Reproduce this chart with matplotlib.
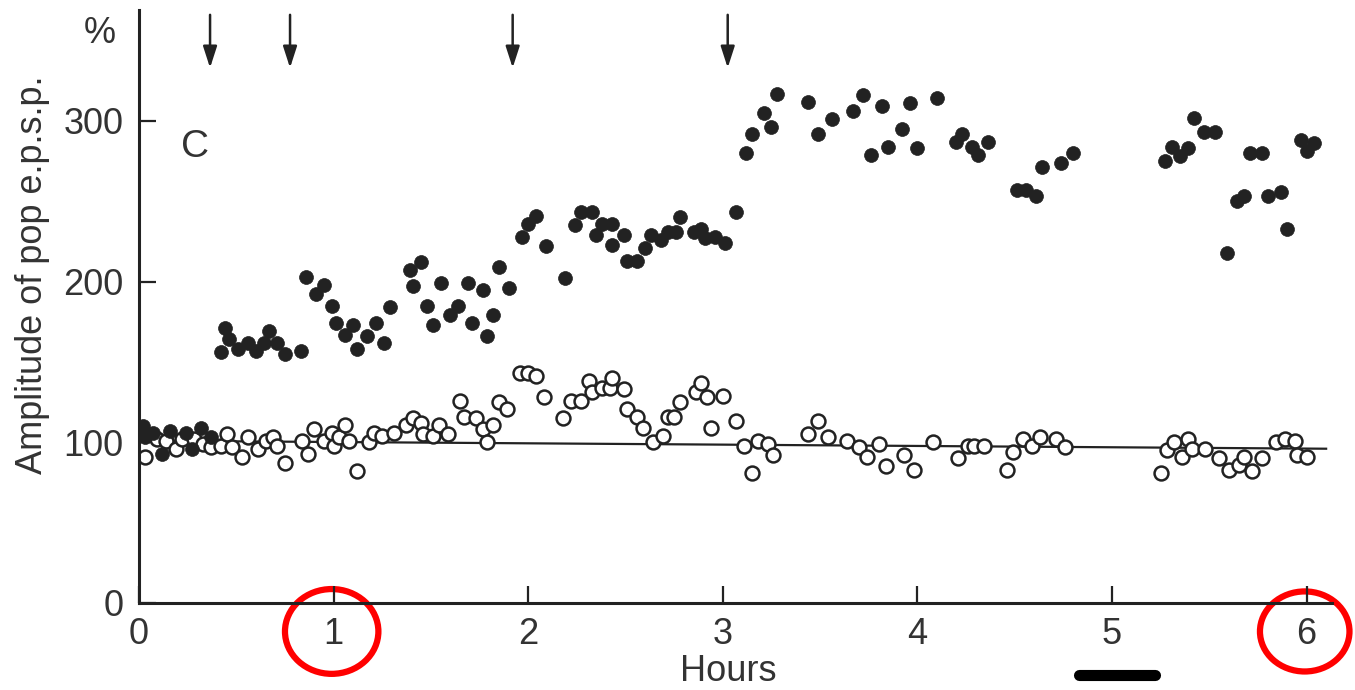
import matplotlib
matplotlib.use("Agg")
import matplotlib.pyplot as plt
from matplotlib.patches import Ellipse
import matplotlib.transforms as mtransforms

plt.rcParams['font.family'] = ['Liberation Sans', 'DejaVu Sans']

# tetanized pathway (filled circles), hours / % of baseline
tet_hours = [0.02, 0.03, 0.07, 0.12, 0.16, 0.24, 0.27, 0.32, 0.37,
             0.42, 0.44, 0.46, 0.51, 0.56, 0.60, 0.64, 0.67, 0.71, 0.75, 0.83,
             0.86, 0.95, 0.91, 0.99, 1.01, 1.10, 1.06, 1.12, 1.17, 1.22, 1.26, 1.29,
             1.39, 1.45, 1.41, 1.48, 1.55, 1.51, 1.60, 1.64, 1.69, 1.71, 1.77, 1.79, 1.82, 1.85, 1.90,
             1.97, 2.00, 2.04, 2.09, 2.19, 2.24, 2.27, 2.33, 2.35, 2.38, 2.43, 2.43, 2.49, 2.51,
             2.56, 2.60, 2.63, 2.68, 2.72, 2.76, 2.78, 2.85, 2.89, 2.91, 2.96, 3.01, 3.07,
             3.12, 3.15, 3.21, 3.25, 3.28, 3.44, 3.49, 3.56, 3.67, 3.72, 3.76, 3.82, 3.85,
             3.92, 3.96, 4.00, 4.10, 4.20, 4.23, 4.28, 4.31, 4.36,
             4.51, 4.56, 4.61, 4.64, 4.74, 4.80,
             5.27, 5.31, 5.35, 5.39, 5.42, 5.47, 5.53, 5.59, 5.64, 5.68, 5.71, 5.77, 5.80,
             5.87, 5.90, 5.97, 6.00, 6.04]
tet_pct = [110, 103, 106, 93, 107, 106, 96, 109, 103,
           156, 171, 164, 158, 162, 157, 162, 169, 162, 155, 157,
           203, 198, 192, 185, 174, 173, 167, 158, 166, 174, 162, 184,
           207, 212, 197, 185, 199, 173, 179, 185, 199, 174, 195, 166, 179, 209, 196,
           228, 236, 241, 222, 202, 235, 243, 243, 229, 236, 236, 223, 229, 213,
           213, 221, 229, 226, 231, 231, 240, 231, 233, 227, 228, 224, 243,
           280, 292, 305, 296, 317, 312, 292, 301, 306, 316, 279, 309, 284,
           295, 311, 283, 314, 287, 292, 284, 279, 287,
           257, 257, 253, 271, 274, 280,
           275, 284, 278, 283, 302, 293, 293, 218, 250, 253, 280, 280, 253,
           256, 233, 288, 281, 286]

# control pathway (open circles)
ctl_hours = [0.03, 0.09, 0.14, 0.19, 0.22, 0.28, 0.33, 0.37, 0.42, 0.45, 0.48, 0.53,
             0.56, 0.61, 0.65, 0.69, 0.71, 0.75, 0.84, 0.87, 0.90, 0.95, 0.99, 1.00,
             1.03, 1.06, 1.08, 1.12, 1.18, 1.21, 1.25, 1.31, 1.37, 1.41, 1.45, 1.46,
             1.51, 1.54, 1.59, 1.65, 1.67, 1.73, 1.77, 1.79, 1.82, 1.85, 1.89,
             1.96, 2.00, 2.04, 2.08, 2.18, 2.22, 2.27, 2.31, 2.33, 2.38, 2.42, 2.43,
             2.49, 2.51, 2.56, 2.59, 2.64, 2.69, 2.72, 2.75, 2.78, 2.86, 2.89, 2.92,
             2.94, 3.00, 3.07, 3.11, 3.15, 3.18, 3.23, 3.26, 3.44, 3.49, 3.54, 3.64,
             3.70, 3.74, 3.80, 3.84, 3.93, 3.98, 4.08, 4.21, 4.26, 4.29, 4.34, 4.46,
             4.49, 4.54, 4.59, 4.63, 4.71, 4.76,
             5.25, 5.28, 5.32, 5.36, 5.39, 5.41, 5.48, 5.55, 5.60, 5.65, 5.68, 5.72,
             5.77, 5.84, 5.89, 5.94, 5.95, 6.00]
ctl_pct = [91, 102, 101, 96, 102, 102, 99, 97, 98, 105, 97, 91,
           103, 96, 101, 103, 98, 87, 101, 93, 108, 101, 106, 98,
           103, 111, 101, 82, 100, 106, 104, 106, 111, 115, 112, 105,
           104, 111, 105, 126, 116, 115, 108, 100, 111, 125, 121,
           143, 143, 141, 128, 115, 126, 126, 138, 131, 134, 134, 140,
           133, 121, 116, 109, 100, 104, 116, 116, 125, 131, 137, 128,
           109, 129, 113, 98, 81, 101, 99, 92, 105, 113, 103, 101,
           97, 91, 99, 85, 92, 83, 100, 90, 98, 98, 98, 83,
           94, 102, 98, 103, 102, 97,
           81, 95, 100, 91, 102, 96, 96, 90, 83, 86, 91, 82,
           90, 100, 102, 101, 92, 91]

fit_hours = [0, 6.1]
fit_pct = [101, 96]

arrow_hours = [0.365, 0.776, 1.92, 3.025]
x_ticks = [0, 1, 2, 3, 4, 5, 6]
y_ticks = [0, 100, 200, 300]
circled_ticks = [1, 6]

ink = '#222222'

fig = plt.figure(figsize=(13.55, 6.9), dpi=100)
ax = fig.add_axes([0.1026, 0.1261, 0.8804, 0.8594])

ax.plot(fit_hours, fit_pct, color=ink, lw=1.6, zorder=1)
ax.plot(ctl_hours, ctl_pct, 'o', ms=10, mfc='white', mec=ink, mew=1.8, zorder=2)
ax.plot(tet_hours, tet_pct, 'o', ms=10, mfc=ink, mec=ink, mew=0.5, zorder=3)

for h in arrow_hours:
    ax.annotate('', xy=(h, 333), xytext=(h, 366),
                arrowprops=dict(arrowstyle='-|>,head_length=1.3,head_width=0.42',
                                color=ink, lw=1.8, shrinkA=0, shrinkB=0),
                annotation_clip=False)

ax.set_xlim(0, 6.13)
ax.set_ylim(0, 369)
ax.set_xticks(x_ticks)
ax.set_yticks(y_ticks)
ax.spines['top'].set_visible(False)
ax.spines['right'].set_visible(False)
for s in ['left', 'bottom']:
    ax.spines[s].set_linewidth(2.2)
    ax.spines[s].set_color(ink)
ax.tick_params(direction='in', length=12, width=1.6, colors=ink,
               labelsize=26, labelcolor='#333333')
ax.tick_params(axis='y', pad=11)
ax.tick_params(axis='x', pad=10)

ax.set_xlabel('Hours', fontsize=26, color='#333333')
ax.xaxis.set_label_coords(0.494, -0.086)
ax.set_ylabel('Amplitude of pop e.p.s.p.', fontsize=26, color='#333333')
ax.yaxis.set_label_coords(-0.075, 0.553)

ax.text(-0.033, 0.961, '%', transform=ax.transAxes, fontsize=26,
        color='#333333', ha='center', va='center')
ax.text(0.047, 0.769, 'C', transform=ax.transAxes, fontsize=28,
        color='#333333', ha='center', va='center')

# scale bar under the axis
trans = mtransforms.blended_transform_factory(ax.transData, ax.transAxes)
ax.plot([4.83, 5.22], [-0.121, -0.121], transform=trans, color='black',
        lw=8, solid_capstyle='round', clip_on=False)

# red rings around tick labels
for t, w, hgt in zip(circled_ticks, [0.48, 0.46], [0.143, 0.135]):
    ax.add_patch(Ellipse((t - 0.01, -0.048), w, hgt, transform=trans,
                         fill=False, edgecolor='#ff0000', lw=4.5, clip_on=False))

fig.savefig('out.png', dpi=100)
